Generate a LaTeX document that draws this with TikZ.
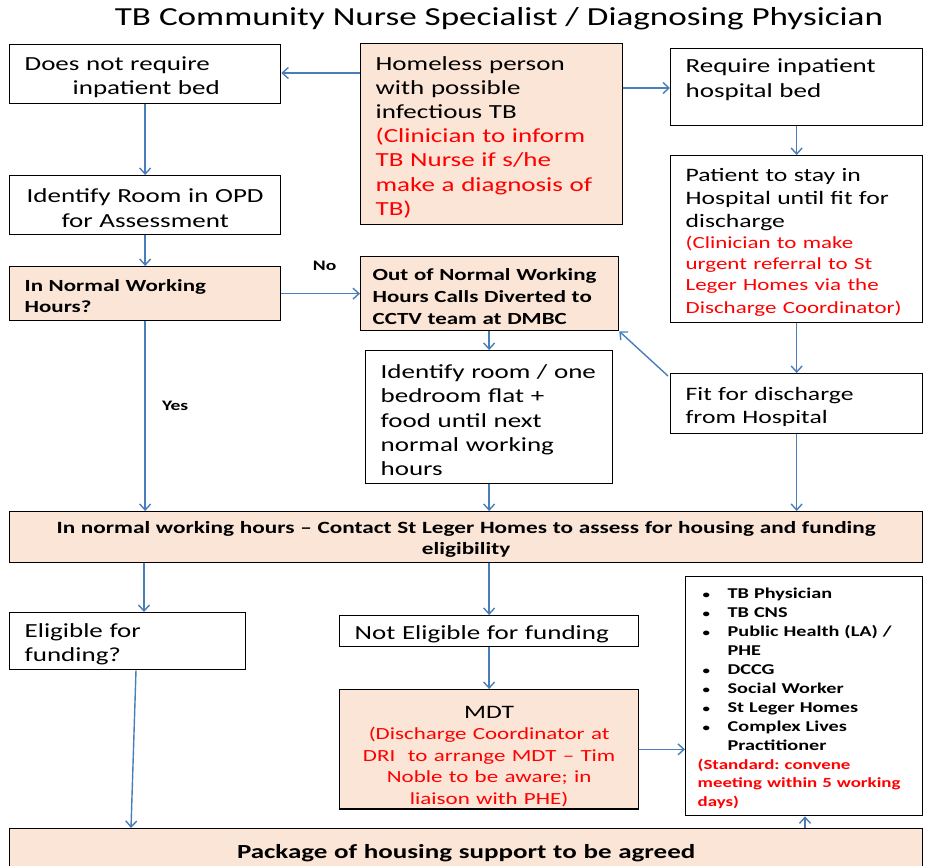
\documentclass[tikz,border=0pt]{standalone}
\usepackage{fontspec}
\setmainfont[FakeStretch=1.35]{Carlito}
\usetikzlibrary{arrows.meta}
\definecolor{peach}{RGB}{251,229,214}
\definecolor{flowblue}{RGB}{74,126,187}
\definecolor{notered}{RGB}{255,0,0}
\newcommand\fsz[2]{\fontsize{#1pt}{#2pt}\selectfont}
\newcommand\itm[1]{\makebox[30pt][l]{\hspace{5pt}{\fsz{11}{11}\textbullet}}#1}
\newcommand\topstrut[1]{\rule{0pt}{#1}}
\frenchspacing

\begin{document}
\begin{tikzpicture}[x=1pt,y=-1pt,
  box/.style={draw=black, line width=1.3pt, rectangle, anchor=north west,
    inner xsep=15pt, inner ysep=2pt, align=left,
    execute at begin node=\topstrut{1em}},
  shaded/.style={box, fill=peach},
  flow/.style={draw=flowblue, line width=1.4pt,
    -{Straight Barb[length=6pt,width=11pt,line width=1.4pt]}},
  lbl/.style={font=\fsz{14.5}{16}\bfseries}]
\useasboundingbox (0,0) rectangle (931,866);
\fill[white] (0,0) rectangle (931,866);

% heading
\node[font=\fsz{26}{30}] (title) at (499,19) {TB Community Nurse Specialist / Diagnosing Physician};

% top row
\node[box, text width=241pt, minimum height=59pt, font=\fsz{20}{24.5}] (nobed) at (9,44)
  {Does not require\\\hspace*{48pt}inpatient bed};
\node[shaded, text width=232pt, minimum height=181pt, font=\fsz{20}{24.2}] (homeless) at (360,43)
  {Homeless person\\with possible\\infectious TB\\\color{notered}(Clinician to inform\\TB Nurse if s/he\\make a diagnosis of\\TB)};
\node[box, text width=222pt, minimum height=77pt, font=\fsz{20}{24.5}] (reqbed) at (670,48)
  {Require inpatient\\hospital bed\\\mbox{}};

% left column
\node[box, text width=241pt, minimum height=59pt, align=center, font=\fsz{20}{24.5}] (opd) at (9,175)
  {Identify Room in OPD\\for Assessment};
\node[shaded, text width=241pt, minimum height=54pt, font=\fsz{17}{21}\bfseries] (normal) at (9,266)
  {In Normal Working\\Hours?};

% middle column
\node[shaded, text width=234pt, inner xsep=12pt, minimum height=74pt, font=\fsz{17}{22}\bfseries] (outhours) at (360,256)
  {Out of Normal Working\\Hours Calls Diverted to\\CCTV team at DMBC};
\node[box, text width=217pt, minimum height=133pt, font=\fsz{20}{24.3}] (flat) at (365,350)
  {Identify room / one\\bedroom flat +\\food until next\\normal working\\hours};

% right column
\node[box, text width=222pt, minimum height=167pt, font=\fsz{19}{23}] (patient) at (670,155)
  {Patient to stay in\\Hospital until fit for\\discharge\par
   \fsz{17}{21}\color{notered}(Clinician to make\\urgent referral to St\\Leger Homes via the\\Discharge Coordinator)};
\node[box, text width=222pt, minimum height=60pt, font=\fsz{19}{23}] (fit) at (670,373)
  {Fit for discharge\\from Hospital};

% housing assessment
\node[shaded, text width=893pt, inner xsep=10pt, minimum height=51pt, align=center, font=\fsz{17.2}{21}\bfseries] (contact) at (9,511)
  {In normal working hours -- Contact St Leger Homes to assess for housing and funding\\eligibility};

\node[box, text width=206pt, minimum height=57pt, font=\fsz{20}{24.5}] (eligible) at (9,612)
  {Eligible for\\funding?};
\node[box, text width=269pt, minimum height=31pt, font=\fsz{20}{24}] (noteligible) at (339,615)
  {Not Eligible for funding};
\node[shaded, text width=279pt, inner xsep=10pt, minimum height=119pt, align=center, font=\fsz{19}{22},
  execute at begin node=\topstrut{1.4em}] (mdt) at (339,689)
  {MDT\par\fsz{17}{21.5}\color{notered}(Discharge Coordinator at\\DRI\ \ to arrange MDT -- Tim\\Noble to be aware; in\\liaison with PHE)};
\node[box, text width=213pt, inner xsep=12pt, minimum height=239pt, font=\fsz{15}{19}\bfseries] (members) at (685,576)
  {\itm{TB Physician}\\\itm{TB CNS}\\\itm{Public Health (LA) /}\\\hspace*{30pt}PHE\\\itm{DCCG}\\\itm{Social Worker}\\\itm{St Leger Homes}\\\itm{Complex Lives}\\\hspace*{30pt}Practitioner\par
   \fsz{14}{18.5}\color{notered}(Standard: convene\\meeting within 5 working\\days)};

\node[shaded, text width=893pt, inner xsep=10pt, minimum height=44pt, align=center, font=\fsz{20}{22}\bfseries] (package) at (9,828)
  {Package of housing support to be agreed};

% connectors
\draw[flow] (homeless.west |- 0,73) -- (nobed.east |- 0,73);
\draw[flow] (homeless.east |- 0,88) -- (reqbed.west |- 0,88);
\draw[flow] (nobed.south) -- (opd.north);
\draw[flow] (opd.south) -- (normal.north);
\draw[flow] (normal.east) -- node[lbl, pos=0.55, yshift=28pt] (nolbl) {No} (outhours.west);
\draw[flow] (normal.south) -- node[lbl, xshift=30pt, yshift=10pt] (yeslbl) {Yes} (normal.south |- contact.north);
\draw[flow] (outhours.south -| flat.north) -- (flat.north);
\draw[flow] (flat.south) -- (flat.south |- contact.north);
\draw[flow] (reqbed.south) -- (patient.north);
\draw[flow] (patient.south) -- (fit.north);
\draw[flow] ([xshift=-2pt,yshift=-3pt]fit.north west) -- (outhours.south east);
\draw[flow] (fit.south) -- (fit.south |- contact.north);
\draw[flow] (contact.south -| 144,0) -- (eligible.north -| 144,0);
\draw[flow] (contact.south -| noteligible.north) -- (noteligible.north);
\draw[flow] (noteligible.south) -- (mdt.north);
\draw[flow] (eligible.south -| 136,0) -- (package.north -| 131,0);
\draw[flow] (mdt.east) -- (members.west |- mdt.east);
\draw[flow] (package.north -| 805,0) -- (members.south -| 805,0);
\end{tikzpicture}
\end{document}
